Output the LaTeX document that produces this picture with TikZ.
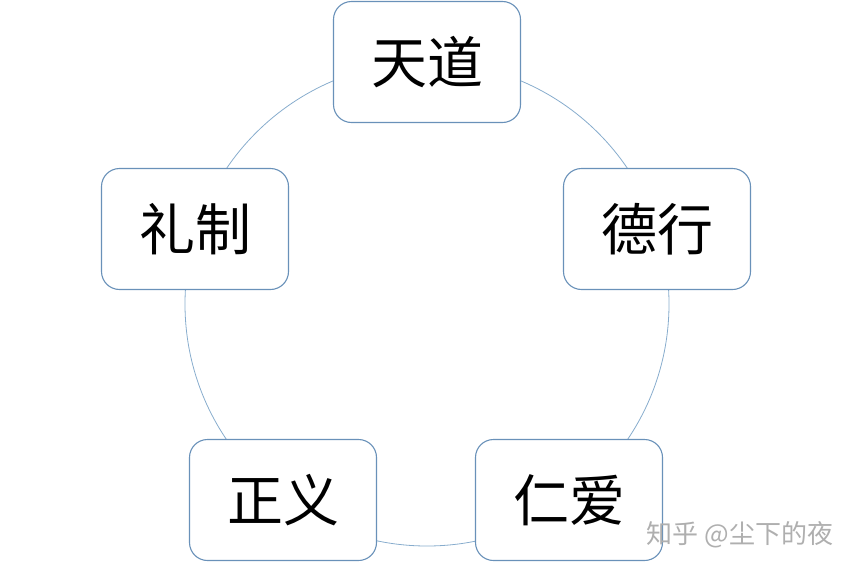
\documentclass[tikz,border=0pt]{standalone}
\usepackage{fontspec}
\newfontfamily\cjk{Noto Sans CJK SC}
\definecolor{boxline}{RGB}{105,145,185}
\definecolor{ringline}{RGB}{135,172,205}
\definecolor{markgray}{RGB}{175,175,175}
\tikzset{
	virtue/.style={shape=rectangle, draw=boxline, fill=white, line width=1.1pt, rounded corners=18pt,
		minimum width=187pt, minimum height=121pt, font=\cjk\fontsize{56}{60}\selectfont},
}
\begin{document}
\begin{tikzpicture}[x=1pt, y=-1pt]
	% Frame and ring:
	\useasboundingbox (0, 0) rectangle (854, 570);
	\node[shape=circle, draw=ringline, line width=0.8pt, minimum size=484pt, inner sep=0pt] (ring) at (427, 304){};
	% Boxes:
	\node[virtue] (tiandao) at (427, 62){天道};
	\node[virtue] (dexing) at (657, 229){德行};
	\node[virtue] (renai) at (569, 500){仁爱};
	\node[virtue] (zhengyi) at (283, 500){正义};
	\node[virtue] (lizhi) at (195, 229){礼制};
	% Watermark:
	\node[text=markgray, font=\cjk\fontsize{26}{28}\selectfont] (mark) at (740, 535){知乎 @尘下的夜};
\end{tikzpicture}
\end{document}
